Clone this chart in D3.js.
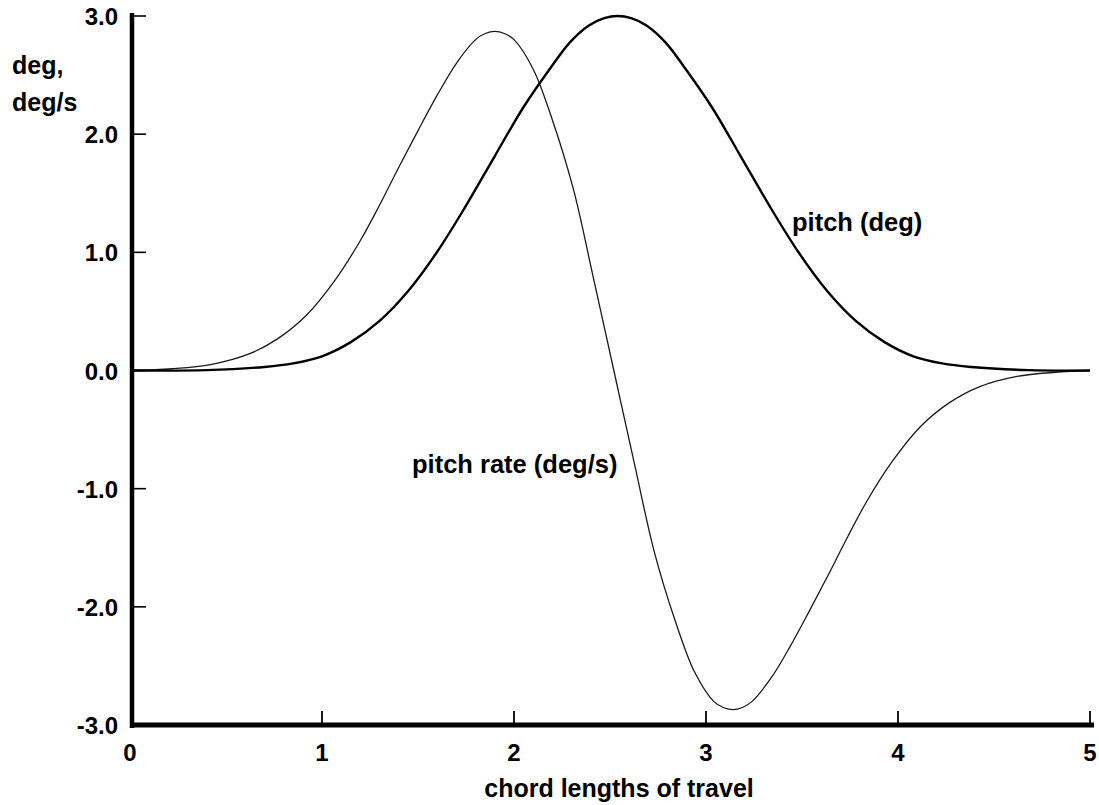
<!DOCTYPE html>
<html>
<head>
<meta charset="utf-8">
<script src="https://cdn.jsdelivr.net/npm/d3@7"></script>
<style>
  html, body { margin: 0; padding: 0; background: #fff; }
  svg { display: block; }
  text { font-family: "Liberation Sans", Arial, Helvetica, sans-serif; font-weight: bold; fill: #000; }
</style>
</head>
<body>
<svg id="chart" width="1099" height="805"></svg>
<script>
// ---- data ----
const xTicks = [0, 1, 2, 3, 4, 5];
const yTicks = [3, 2, 1, 0, -1, -2, -3];
const yTickLabels = ["3.0", "2.0", "1.0", "0.0", "-1.0", "-2.0", "-3.0"];

const pitchX   = [0, 0.4, 0.7, 0.85, 1.0, 1.15, 1.3, 1.45, 1.6, 1.75, 1.9, 2.05, 2.19, 2.29, 2.39, 2.47, 2.54, 2.61, 2.69, 2.79, 2.89, 3.03, 3.18, 3.33, 3.48, 3.63, 3.78, 3.93, 4.08, 4.23, 4.38, 4.68, 5.0];
const pitchDeg = [0, 0.003, 0.03, 0.06, 0.12, 0.24, 0.42, 0.675, 1.005, 1.395, 1.815, 2.23, 2.56, 2.775, 2.92, 2.982, 3.0, 2.982, 2.92, 2.775, 2.56, 2.23, 1.815, 1.395, 1.005, 0.675, 0.42, 0.24, 0.12, 0.06, 0.03, 0.003, 0];

const rateX   = [0, 0.22, 0.42, 0.62, 0.77, 0.92, 1.07, 1.20, 1.30, 1.40, 1.50, 1.60, 1.70, 1.80, 1.85, 1.90, 1.95, 2.00, 2.10, 2.20, 2.31, 2.41, 2.52, 2.63, 2.73, 2.84, 2.94, 3.04, 3.09, 3.14, 3.19, 3.24, 3.34, 3.44, 3.54, 3.64, 3.74, 3.84, 3.97, 4.12, 4.27, 4.42, 4.62, 4.82, 5.0];
const rateDeg = [0, 0.015, 0.05, 0.14, 0.27, 0.47, 0.77, 1.10, 1.40, 1.72, 2.03, 2.33, 2.60, 2.80, 2.852, 2.87, 2.852, 2.80, 2.55, 2.12, 1.53, 0.81, 0, -0.81, -1.53, -2.12, -2.55, -2.80, -2.852, -2.87, -2.852, -2.80, -2.60, -2.33, -2.03, -1.72, -1.40, -1.10, -0.77, -0.47, -0.27, -0.14, -0.05, -0.015, 0];

// ---- layout ----
const svg = d3.select("#chart");
const x = d3.scaleLinear().domain([0, 5]).range([130, 1090]);
const y = d3.scaleLinear().domain([-3, 3]).range([725, 16]);

// curves
const line = d3.line().x(d => x(d[0])).y(d => y(d[1])).curve(d3.curveCatmullRom.alpha(0.5));
svg.append("path")
  .attr("d", line(d3.zip(rateX, rateDeg)))
  .attr("fill", "none").attr("stroke", "#1a1a1a").attr("stroke-width", 1.3);
svg.append("path")
  .attr("d", line(d3.zip(pitchX, pitchDeg)))
  .attr("fill", "none").attr("stroke", "#000").attr("stroke-width", 2.4);

// axes lines
svg.append("line").attr("x1", 132).attr("x2", 132).attr("y1", 13).attr("y2", 728)
  .attr("stroke", "#000").attr("stroke-width", 4.5);
svg.append("line").attr("x1", 130).attr("x2", 1094).attr("y1", 725).attr("y2", 725)
  .attr("stroke", "#000").attr("stroke-width", 5);

// y ticks (inward)
svg.selectAll(".yt").data(yTicks.filter(d => d > -3)).enter().append("line")
  .attr("x1", 134).attr("x2", 146)
  .attr("y1", d => y(d)).attr("y2", d => y(d))
  .attr("stroke", "#000").attr("stroke-width", 1.6);
svg.selectAll(".yl").data(yTicks).enter().append("text")
  .attr("x", 118).attr("y", d => y(d) + 9)
  .attr("text-anchor", "end").attr("font-size", 24)
  .text((d, i) => yTickLabels[i]);

// x ticks (inward)
svg.selectAll(".xt").data(xTicks.filter(d => d > 0)).enter().append("line")
  .attr("x1", d => x(d)).attr("x2", d => x(d))
  .attr("y1", 723).attr("y2", 711)
  .attr("stroke", "#000").attr("stroke-width", 1.8);
svg.selectAll(".xl").data(xTicks).enter().append("text")
  .attr("x", d => x(d)).attr("y", 761)
  .attr("text-anchor", "middle").attr("font-size", 24)
  .text(d => d);

// titles and labels
svg.append("text").attr("x", 619).attr("y", 797).attr("text-anchor", "middle")
  .attr("font-size", 25).text("chord lengths of travel");
svg.append("text").attr("x", 12).attr("y", 74).attr("font-size", 25).text("deg,");
svg.append("text").attr("x", 12).attr("y", 111).attr("font-size", 25).text("deg/s");
svg.append("text").attr("x", 412).attr("y", 473).attr("font-size", 25.5).text("pitch rate (deg/s)");
svg.append("text").attr("x", 792).attr("y", 231).attr("font-size", 25.5).text("pitch (deg)");
</script>
</body>
</html>
